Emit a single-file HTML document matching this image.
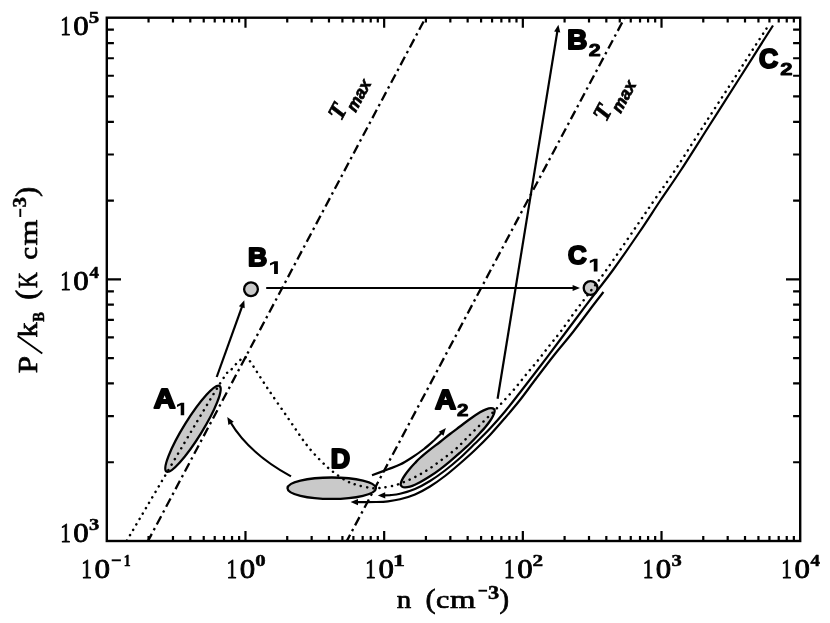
<!DOCTYPE html><html><head><meta charset="utf-8"><style>html,body{margin:0;padding:0;background:#fff}svg{display:block;will-change:transform;opacity:0.999}text{font-family:"Liberation Serif",serif;fill:#000}</style></head><body>
<svg width="830" height="623" viewBox="0 0 830 623">
<rect width="830" height="623" fill="#fff"/>
<defs><marker id="ah" viewBox="0 0 10 8" refX="9" refY="4" markerWidth="7.5" markerHeight="6" markerUnits="userSpaceOnUse" orient="auto"><path d="M0,0 L10,4 L0,8 Z" fill="#000"/></marker></defs>
<path d="M148.55,541.0v-4.9M148.55,17.7v4.9M172.97,541.0v-4.9M172.97,17.7v4.9M190.29,541.0v-4.9M190.29,17.7v4.9M203.73,541.0v-4.9M203.73,17.7v4.9M214.71,541.0v-4.9M214.71,17.7v4.9M224.00,541.0v-4.9M224.00,17.7v4.9M232.04,541.0v-4.9M232.04,17.7v4.9M239.13,541.0v-4.9M239.13,17.7v4.9M245.48,541.0v-10.0M245.48,17.7v10.0M287.23,541.0v-4.9M287.23,17.7v4.9M311.65,541.0v-4.9M311.65,17.7v4.9M328.97,541.0v-4.9M328.97,17.7v4.9M342.41,541.0v-4.9M342.41,17.7v4.9M353.39,541.0v-4.9M353.39,17.7v4.9M362.68,541.0v-4.9M362.68,17.7v4.9M370.72,541.0v-4.9M370.72,17.7v4.9M377.81,541.0v-4.9M377.81,17.7v4.9M384.16,541.0v-10.0M384.16,17.7v10.0M425.91,541.0v-4.9M425.91,17.7v4.9M450.33,541.0v-4.9M450.33,17.7v4.9M467.65,541.0v-4.9M467.65,17.7v4.9M481.09,541.0v-4.9M481.09,17.7v4.9M492.07,541.0v-4.9M492.07,17.7v4.9M501.36,541.0v-4.9M501.36,17.7v4.9M509.40,541.0v-4.9M509.40,17.7v4.9M516.49,541.0v-4.9M516.49,17.7v4.9M522.84,541.0v-10.0M522.84,17.7v10.0M564.59,541.0v-4.9M564.59,17.7v4.9M589.01,541.0v-4.9M589.01,17.7v4.9M606.33,541.0v-4.9M606.33,17.7v4.9M619.77,541.0v-4.9M619.77,17.7v4.9M630.75,541.0v-4.9M630.75,17.7v4.9M640.04,541.0v-4.9M640.04,17.7v4.9M648.08,541.0v-4.9M648.08,17.7v4.9M655.17,541.0v-4.9M655.17,17.7v4.9M661.52,541.0v-10.0M661.52,17.7v10.0M703.27,541.0v-4.9M703.27,17.7v4.9M727.69,541.0v-4.9M727.69,17.7v4.9M745.01,541.0v-4.9M745.01,17.7v4.9M758.45,541.0v-4.9M758.45,17.7v4.9M769.43,541.0v-4.9M769.43,17.7v4.9M778.72,541.0v-4.9M778.72,17.7v4.9M786.76,541.0v-4.9M786.76,17.7v4.9M793.85,541.0v-4.9M793.85,17.7v4.9M106.8,462.24h7.1M800.2,462.24h-7.1M106.8,416.16h7.1M800.2,416.16h-7.1M106.8,383.47h7.1M800.2,383.47h-7.1M106.8,358.11h7.1M800.2,358.11h-7.1M106.8,337.40h7.1M800.2,337.40h-7.1M106.8,319.88h7.1M800.2,319.88h-7.1M106.8,304.71h7.1M800.2,304.71h-7.1M106.8,291.32h7.1M800.2,291.32h-7.1M106.8,279.35h14.2M800.2,279.35h-14.2M106.8,200.59h7.1M800.2,200.59h-7.1M106.8,154.51h7.1M800.2,154.51h-7.1M106.8,121.82h7.1M800.2,121.82h-7.1M106.8,96.46h7.1M800.2,96.46h-7.1M106.8,75.75h7.1M800.2,75.75h-7.1M106.8,58.23h7.1M800.2,58.23h-7.1M106.8,43.06h7.1M800.2,43.06h-7.1M106.8,29.67h7.1M800.2,29.67h-7.1" stroke="#000" stroke-width="2.2" fill="none"/>
<rect x="106.8" y="17.7" width="693.40" height="523.30" fill="none" stroke="#000" stroke-width="2.4"/>
<path d="M425.3,18.3 L148.2,540.6" stroke="#000" stroke-width="2.3" fill="none" stroke-dasharray="9.4 4.1 2.4 4.1" stroke-dashoffset="-3.6"/>
<path d="M624.4,18.3 L347,540.6" stroke="#000" stroke-width="2.3" fill="none" stroke-dasharray="9.4 4.1 2.4 4.1" stroke-dashoffset="-4.8"/>
<ellipse cx="193" cy="428.8" rx="50.4" ry="9.2" transform="rotate(-58.2 193 428.8)" fill="#c9c9c9" stroke="#000" stroke-width="2.3"/>
<path d="M400.50,484.50 C400.75,483.75 401.25,481.58 402.00,480.00 C402.75,478.42 403.67,476.92 405.00,475.00 C406.33,473.08 408.33,470.50 410.00,468.50 C411.67,466.50 413.33,464.75 415.00,463.00 C416.67,461.25 417.50,460.22 420.00,458.00 C422.50,455.78 426.67,452.37 430.00,449.70 C433.33,447.03 436.67,444.62 440.00,442.00 C443.33,439.38 446.67,436.58 450.00,434.00 C453.33,431.42 456.67,429.00 460.00,426.50 C463.33,424.00 466.67,421.37 470.00,419.00 C473.33,416.63 477.33,413.92 480.00,412.30 C482.67,410.68 484.17,409.98 486.00,409.30 C487.83,408.62 489.62,408.20 491.00,408.20 C492.38,408.20 493.70,408.75 494.30,409.30 C494.90,409.85 494.82,410.38 494.60,411.50 C494.38,412.62 493.77,414.42 493.00,416.00 C492.23,417.58 491.33,419.08 490.00,421.00 C488.67,422.92 486.67,425.50 485.00,427.50 C483.33,429.50 482.50,430.33 480.00,433.00 C477.50,435.67 473.33,440.22 470.00,443.50 C466.67,446.78 463.33,449.73 460.00,452.70 C456.67,455.67 453.33,458.53 450.00,461.30 C446.67,464.07 443.33,466.80 440.00,469.30 C436.67,471.80 433.33,474.13 430.00,476.30 C426.67,478.47 422.50,480.88 420.00,482.30 C417.50,483.72 416.67,484.08 415.00,484.80 C413.33,485.52 411.67,486.18 410.00,486.60 C408.33,487.02 406.33,487.30 405.00,487.30 C403.67,487.30 402.75,487.07 402.00,486.60 C401.25,486.13 400.75,484.85 400.50,484.50 Z" fill="#c9c9c9" stroke="#000" stroke-width="2.3" stroke-linejoin="round"/>
<ellipse cx="331.7" cy="488.2" rx="44.2" ry="10.7" fill="#c9c9c9" stroke="#000" stroke-width="2.3"/>
<circle cx="251" cy="289.3" r="6.9" fill="#c9c9c9" stroke="#000" stroke-width="2.3"/>
<circle cx="590.6" cy="288" r="6.9" fill="#c9c9c9" stroke="#000" stroke-width="2.3"/>
<path d="M126.80,540.60 C141.67,515.50 198.50,418.60 216.00,390.00 C233.50,361.40 227.63,374.12 231.80,369.00 C235.97,363.88 238.63,361.27 241.00,359.30 C243.37,357.33 244.42,356.75 246.00,357.20 C247.58,357.65 246.83,356.70 250.50,362.00 C254.17,367.30 261.75,379.67 268.00,389.00 C274.25,398.33 281.67,408.83 288.00,418.00 C294.33,427.17 300.67,437.00 306.00,444.00 C311.33,451.00 315.67,455.50 320.00,460.00 C324.33,464.50 327.57,467.50 332.00,471.00 C336.43,474.50 342.27,478.63 346.60,481.00 C350.93,483.37 353.98,484.03 358.00,485.20 C362.02,486.37 367.62,487.48 370.70,488.00 C373.78,488.52 374.48,488.37 376.50,488.30 C378.52,488.23 379.75,488.08 382.80,487.60 C385.85,487.12 390.85,486.50 394.80,485.40 C398.75,484.30 402.63,482.65 406.50,481.00 C410.37,479.35 414.33,477.45 418.00,475.50 C421.67,473.55 425.08,471.52 428.50,469.30 C431.92,467.08 435.17,464.62 438.50,462.20 C441.83,459.78 445.25,457.33 448.50,454.80 C451.75,452.27 455.00,449.75 458.00,447.00 C461.00,444.25 463.58,441.22 466.50,438.30 C469.42,435.38 472.50,432.47 475.50,429.50 C478.50,426.53 481.58,423.38 484.50,420.50 C487.42,417.62 490.08,415.15 493.00,412.20 C495.92,409.25 498.50,406.58 502.00,402.80 C505.50,399.02 510.00,394.18 514.00,389.50 C518.00,384.82 522.00,379.57 526.00,374.70 C530.00,369.83 534.08,365.17 538.00,360.30 C541.92,355.43 545.67,350.37 549.50,345.50 C553.33,340.63 556.67,336.85 561.00,331.10 C565.33,325.35 570.58,317.65 575.50,311.00 C580.42,304.35 585.53,297.78 590.50,291.20 C595.47,284.62 598.13,281.62 605.30,271.50 C612.47,261.38 625.30,242.45 633.50,230.50 C641.70,218.55 647.50,209.97 654.50,199.80 C661.50,189.63 666.92,182.47 675.50,169.50 C684.08,156.53 695.88,137.67 706.00,122.00 C716.12,106.33 728.40,87.58 736.20,75.50 C744.00,63.42 747.75,57.33 752.80,49.50 C757.85,41.67 764.22,32.00 766.50,28.50" stroke="#000" stroke-width="2.5" fill="none" stroke-dasharray="0.1 6.2" stroke-linecap="round"/>
<path d="M773.00,25.50 C767.33,34.42 749.50,62.50 739.00,79.00 C728.50,95.50 719.67,109.33 710.00,124.50 C700.33,139.67 689.33,157.25 681.00,170.00 C672.67,182.75 666.92,190.67 660.00,201.00 C653.08,211.33 647.33,220.50 639.50,232.00 C631.67,243.50 620.42,259.75 613.00,270.00 C605.58,280.25 601.33,285.17 595.00,293.50 C588.67,301.83 580.83,312.25 575.00,320.00 C569.17,327.75 565.83,332.25 560.00,340.00 C554.17,347.75 546.67,357.75 540.00,366.50 C533.33,375.25 525.83,385.00 520.00,392.50 C514.17,400.00 510.00,405.50 505.00,411.50 C500.00,417.50 495.00,423.17 490.00,428.50 C485.00,433.83 480.00,438.58 475.00,443.50 C470.00,448.42 465.00,453.50 460.00,458.00 C455.00,462.50 450.00,466.67 445.00,470.50 C440.00,474.33 435.00,477.92 430.00,481.00 C425.00,484.08 420.00,486.87 415.00,489.00 C410.00,491.13 404.17,492.77 400.00,493.80 C395.83,494.83 391.67,494.97 390.00,495.20 L 383.70,495.31" stroke="#000" stroke-width="2.2" fill="none"/>
<path d="M377.80,495.41 L385.15,492.18 L385.25,498.38 Z" fill="#000"/>
<path d="M603.50,292.00 C601.75,294.25 598.08,298.83 593.00,305.50 C587.92,312.17 579.33,323.92 573.00,332.00 C566.67,340.08 561.33,346.00 555.00,354.00 C548.67,362.00 540.83,372.33 535.00,380.00 C529.17,387.67 525.00,393.67 520.00,400.00 C515.00,406.33 510.00,412.17 505.00,418.00 C500.00,423.83 495.00,429.67 490.00,435.00 C485.00,440.33 480.00,445.25 475.00,450.00 C470.00,454.75 465.00,459.17 460.00,463.50 C455.00,467.83 450.00,472.17 445.00,476.00 C440.00,479.83 435.00,483.42 430.00,486.50 C425.00,489.58 420.00,492.37 415.00,494.50 C410.00,496.63 404.50,498.17 400.00,499.30 C395.50,500.43 392.00,500.85 388.00,501.30 C384.00,501.75 380.00,501.87 376.00,502.00 C372.00,502.13 366.00,502.08 364.00,502.10 L 356.50,502.04" stroke="#000" stroke-width="2.2" fill="none"/>
<path d="M350.60,502.00 L358.02,498.95 L357.98,505.15 Z" fill="#000"/>
<path d="M216.7,377 L 242.30,305.89" stroke="#000" stroke-width="2.2" fill="none"/>
<path d="M244.30,300.34 L244.71,308.35 L238.88,306.25 Z" fill="#000"/>
<path d="M266.2,288 L 574.10,288.00" stroke="#000" stroke-width="2.2" fill="none"/>
<path d="M580.00,288.00 L572.60,291.10 L572.60,284.90 Z" fill="#000"/>
<path d="M497.6,398.8 L 557.45,30.63" stroke="#000" stroke-width="2.2" fill="none"/>
<path d="M558.40,24.81 L560.27,32.61 L554.15,31.61 Z" fill="#000"/>
<path d="M291,476.4 Q249,453.5 230.31,422.06" stroke="#000" stroke-width="2.2" fill="none"/>
<path d="M227.29,416.98 L233.74,421.76 L228.41,424.93 Z" fill="#000"/>
<path d="M372.00,475.20 C374.67,474.22 383.33,471.07 388.00,469.30 C392.67,467.53 396.00,466.57 400.00,464.60 C404.00,462.63 408.00,460.10 412.00,457.50 C416.00,454.90 420.33,451.83 424.00,449.00 C427.67,446.17 432.33,441.92 434.00,440.50 L 442.05,432.52" stroke="#000" stroke-width="2.2" fill="none"/>
<path d="M445.89,428.04 L443.43,435.68 L438.72,431.65 Z" fill="#000"/>
<text transform="translate(248.07 266.45) scale(1.004 1)" font-size="26.45" style="font-family:'Liberation Sans';font-weight:bold;font-style:normal" stroke="#000" stroke-width="2.1" stroke-linejoin="round" >B</text>
<path d="M274.08,273.90 L274.08,263.76 L270.00,265.59 L270.00,263.27 L274.42,261.20 L277.90,261.20 L277.90,273.90 Z" fill="#000"/>
<text transform="translate(153.80 407.95) scale(1.126 1)" font-size="26.74" style="font-family:'Liberation Sans';font-weight:bold;font-style:normal" stroke="#000" stroke-width="2.1" stroke-linejoin="round" >A</text>
<path d="M180.72,415.20 L180.72,405.30 L177.00,407.09 L177.00,404.82 L181.02,402.80 L184.20,402.80 L184.20,415.20 Z" fill="#000"/>
<text transform="translate(330.76 468.45) scale(1.000 1)" font-size="26.74" style="font-family:'Liberation Sans';font-weight:bold;font-style:normal" stroke="#000" stroke-width="2.1" stroke-linejoin="round" >D</text>
<text transform="translate(435.12 409.45) scale(1.092 1)" font-size="26.74" style="font-family:'Liberation Sans';font-weight:bold;font-style:normal" stroke="#000" stroke-width="2.1" stroke-linejoin="round" >A</text>
<text transform="translate(456.94 416.05) scale(1.238 1)" font-size="16.61" style="font-family:'Liberation Sans';font-weight:bold;font-style:normal" stroke="#000" stroke-width="0.9" stroke-linejoin="round" >2</text>
<text transform="translate(567.20 49.45) scale(1.036 1)" font-size="26.74" style="font-family:'Liberation Sans';font-weight:bold;font-style:normal" stroke="#000" stroke-width="2.1" stroke-linejoin="round" >B</text>
<text transform="translate(588.71 56.35) scale(1.255 1)" font-size="17.04" style="font-family:'Liberation Sans';font-weight:bold;font-style:normal" stroke="#000" stroke-width="0.9" stroke-linejoin="round" >2</text>
<text transform="translate(567.99 263.95) scale(1.008 1)" font-size="25.64" style="font-family:'Liberation Sans';font-weight:bold;font-style:normal" stroke="#000" stroke-width="2.1" stroke-linejoin="round" >C</text>
<path d="M593.77,271.50 L593.77,261.36 L589.80,263.19 L589.80,260.87 L594.10,258.80 L597.50,258.80 L597.50,271.50 Z" fill="#000"/>
<text transform="translate(758.96 68.45) scale(0.983 1)" font-size="27.07" style="font-family:'Liberation Sans';font-weight:bold;font-style:normal" stroke="#000" stroke-width="2.1" stroke-linejoin="round" >C</text>
<text transform="translate(780.19 75.05) scale(1.271 1)" font-size="17.33" style="font-family:'Liberation Sans';font-weight:bold;font-style:normal" stroke="#000" stroke-width="0.9" stroke-linejoin="round" >2</text>
<g transform="translate(341.8 120.3) rotate(-62)"><text x="-1.6" y="0" font-size="24" style="font-family:'Liberation Serif';font-style:italic;font-weight:bold" stroke="#000" stroke-width="0.7">T</text><text x="13.0" y="8.9" font-size="16.9" style="font-family:'Liberation Sans';font-style:italic;font-weight:bold" stroke="#000" stroke-width="0.7">max</text></g>
<g transform="translate(606.8 121.4) rotate(-62)"><text x="-1.6" y="0" font-size="24" style="font-family:'Liberation Serif';font-style:italic;font-weight:bold" stroke="#000" stroke-width="0.7">T</text><text x="13.0" y="8.9" font-size="16.9" style="font-family:'Liberation Sans';font-style:italic;font-weight:bold" stroke="#000" stroke-width="0.7">max</text></g>
<text transform="translate(81.30 577.70) scale(0.796 1)" font-size="27.11" style="font-family:'Liberation Serif';font-weight:normal;font-style:normal" stroke="#000" stroke-width="0.8" stroke-linejoin="round" >1</text>
<text transform="translate(94.51 577.70) scale(1.157 1)" font-size="26.92" style="font-family:'Liberation Serif';font-weight:normal;font-style:normal" stroke="#000" stroke-width="0.8" stroke-linejoin="round" >0</text>
<path d="M111.7,560.3h9.2" stroke="#000" stroke-width="1.9"/>
<text transform="translate(123.84 565.70) scale(0.806 1)" font-size="17.19" style="font-family:'Liberation Serif';font-weight:bold;font-style:normal" stroke="#000" stroke-width="0.5" stroke-linejoin="round" >1</text>
<text transform="translate(226.61 577.70) scale(0.786 1)" font-size="27.11" style="font-family:'Liberation Serif';font-weight:normal;font-style:normal" stroke="#000" stroke-width="0.8" stroke-linejoin="round" >1</text>
<text transform="translate(239.80 577.70) scale(1.148 1)" font-size="26.92" style="font-family:'Liberation Serif';font-weight:normal;font-style:normal" stroke="#000" stroke-width="0.8" stroke-linejoin="round" >0</text>
<text transform="translate(255.34 565.70) scale(1.217 1)" font-size="17.07" style="font-family:'Liberation Serif';font-weight:bold;font-style:normal" stroke="#000" stroke-width="0.5" stroke-linejoin="round" >0</text>
<text transform="translate(365.29 577.70) scale(0.786 1)" font-size="27.11" style="font-family:'Liberation Serif';font-weight:normal;font-style:normal" stroke="#000" stroke-width="0.8" stroke-linejoin="round" >1</text>
<text transform="translate(378.48 577.70) scale(1.148 1)" font-size="26.92" style="font-family:'Liberation Serif';font-weight:normal;font-style:normal" stroke="#000" stroke-width="0.8" stroke-linejoin="round" >0</text>
<text transform="translate(392.90 565.70) scale(1.390 1)" font-size="17.19" style="font-family:'Liberation Serif';font-weight:bold;font-style:normal" stroke="#000" stroke-width="0.5" stroke-linejoin="round" >1</text>
<text transform="translate(503.97 577.70) scale(0.786 1)" font-size="27.11" style="font-family:'Liberation Serif';font-weight:normal;font-style:normal" stroke="#000" stroke-width="0.8" stroke-linejoin="round" >1</text>
<text transform="translate(517.16 577.70) scale(1.148 1)" font-size="26.92" style="font-family:'Liberation Serif';font-weight:normal;font-style:normal" stroke="#000" stroke-width="0.8" stroke-linejoin="round" >0</text>
<text transform="translate(532.60 565.70) scale(1.237 1)" font-size="17.14" style="font-family:'Liberation Serif';font-weight:bold;font-style:normal" stroke="#000" stroke-width="0.5" stroke-linejoin="round" >2</text>
<text transform="translate(642.65 577.70) scale(0.786 1)" font-size="27.11" style="font-family:'Liberation Serif';font-weight:normal;font-style:normal" stroke="#000" stroke-width="0.8" stroke-linejoin="round" >1</text>
<text transform="translate(655.84 577.70) scale(1.148 1)" font-size="26.92" style="font-family:'Liberation Serif';font-weight:normal;font-style:normal" stroke="#000" stroke-width="0.8" stroke-linejoin="round" >0</text>
<text transform="translate(671.40 565.70) scale(1.199 1)" font-size="17.14" style="font-family:'Liberation Serif';font-weight:bold;font-style:normal" stroke="#000" stroke-width="0.5" stroke-linejoin="round" >3</text>
<text transform="translate(781.33 577.70) scale(0.786 1)" font-size="27.11" style="font-family:'Liberation Serif';font-weight:normal;font-style:normal" stroke="#000" stroke-width="0.8" stroke-linejoin="round" >1</text>
<text transform="translate(794.52 577.70) scale(1.148 1)" font-size="26.92" style="font-family:'Liberation Serif';font-weight:normal;font-style:normal" stroke="#000" stroke-width="0.8" stroke-linejoin="round" >0</text>
<text transform="translate(810.59 565.70) scale(1.091 1)" font-size="17.24" style="font-family:'Liberation Serif';font-weight:bold;font-style:normal" stroke="#000" stroke-width="0.5" stroke-linejoin="round" >4</text>
<text transform="translate(60.13 35.20) scale(0.786 1)" font-size="27.11" style="font-family:'Liberation Serif';font-weight:normal;font-style:normal" stroke="#000" stroke-width="0.8" stroke-linejoin="round" >1</text>
<text transform="translate(73.32 35.20) scale(1.148 1)" font-size="26.92" style="font-family:'Liberation Serif';font-weight:normal;font-style:normal" stroke="#000" stroke-width="0.8" stroke-linejoin="round" >0</text>
<text transform="translate(88.82 23.20) scale(1.199 1)" font-size="17.33" style="font-family:'Liberation Serif';font-weight:bold;font-style:normal" stroke="#000" stroke-width="0.5" stroke-linejoin="round" >5</text>
<text transform="translate(60.13 289.80) scale(0.786 1)" font-size="27.11" style="font-family:'Liberation Serif';font-weight:normal;font-style:normal" stroke="#000" stroke-width="0.8" stroke-linejoin="round" >1</text>
<text transform="translate(73.32 289.80) scale(1.148 1)" font-size="26.92" style="font-family:'Liberation Serif';font-weight:normal;font-style:normal" stroke="#000" stroke-width="0.8" stroke-linejoin="round" >0</text>
<text transform="translate(89.39 277.80) scale(1.091 1)" font-size="17.24" style="font-family:'Liberation Serif';font-weight:bold;font-style:normal" stroke="#000" stroke-width="0.5" stroke-linejoin="round" >4</text>
<text transform="translate(60.13 542.30) scale(0.786 1)" font-size="27.11" style="font-family:'Liberation Serif';font-weight:normal;font-style:normal" stroke="#000" stroke-width="0.8" stroke-linejoin="round" >1</text>
<text transform="translate(73.32 542.30) scale(1.148 1)" font-size="26.92" style="font-family:'Liberation Serif';font-weight:normal;font-style:normal" stroke="#000" stroke-width="0.8" stroke-linejoin="round" >0</text>
<text transform="translate(88.88 530.30) scale(1.199 1)" font-size="17.14" style="font-family:'Liberation Serif';font-weight:bold;font-style:normal" stroke="#000" stroke-width="0.5" stroke-linejoin="round" >3</text>
<text transform="translate(396.68 607.60) scale(1.116 1)" font-size="26.00" style="font-family:'Liberation Serif';font-weight:normal;font-style:normal" stroke="#000" stroke-width="0.7" stroke-linejoin="round" >n</text>
<text transform="translate(425.47 607.51) scale(1.097 1)" font-size="27.68" style="font-family:'Liberation Serif'" stroke="#000" stroke-width="0.7">(</text>
<text transform="translate(435.90 607.60) scale(1.159 1)" font-size="26.00" style="font-family:'Liberation Serif';font-weight:normal;font-style:normal" stroke="#000" stroke-width="0.7" stroke-linejoin="round" >c</text>
<text transform="translate(449.96 607.60) scale(1.266 1)" font-size="26.00" style="font-family:'Liberation Serif';font-weight:normal;font-style:normal" stroke="#000" stroke-width="0.7" stroke-linejoin="round" >m</text>
<path d="M478.5,590.7h8.6" stroke="#000" stroke-width="1.9"/>
<text transform="translate(488.11 598.50) scale(1.137 1)" font-size="19.71" style="font-family:'Liberation Serif';font-weight:bold;font-style:normal" stroke="#000" stroke-width="0.5" stroke-linejoin="round" >3</text>
<text transform="translate(499.47 607.51) scale(1.041 1)" font-size="27.68" style="font-family:'Liberation Serif'" stroke="#000" stroke-width="0.7">)</text>
<g transform="translate(37.3 372.7) rotate(-90)">
<text transform="translate(-0.55 0.00) scale(1.125 1)" font-size="27.72" style="font-family:'Liberation Serif';font-weight:normal;font-style:normal" stroke="#000" stroke-width="0.7" stroke-linejoin="round" >P</text>
<path d="M19.3,5 L36.7,-19.6" stroke="#000" stroke-width="1.8"/>
<text transform="translate(35.28 0.00) scale(1.092 1)" font-size="27.60" style="font-family:'Liberation Serif';font-weight:normal;font-style:normal" stroke="#000" stroke-width="0.7" stroke-linejoin="round" >k</text>
<text transform="translate(51.01 6.50) scale(0.843 1)" font-size="17.33" style="font-family:'Liberation Serif';font-weight:bold;font-style:normal" stroke="#000" stroke-width="0.5" stroke-linejoin="round" >B</text>
<text transform="translate(72.98 -0.99) scale(1.014 1)" font-size="29.56" style="font-family:'Liberation Serif'" stroke="#000" stroke-width="0.7">(</text>
<text transform="translate(84.72 0.00) scale(0.787 1)" font-size="27.72" style="font-family:'Liberation Serif';font-weight:normal;font-style:normal" stroke="#000" stroke-width="0.7" stroke-linejoin="round" >K</text>
<text transform="translate(113.04 0.00) scale(1.118 1)" font-size="26.00" style="font-family:'Liberation Serif';font-weight:normal;font-style:normal" stroke="#000" stroke-width="0.7" stroke-linejoin="round" >c</text>
<text transform="translate(127.15 0.00) scale(1.277 1)" font-size="26.00" style="font-family:'Liberation Serif';font-weight:normal;font-style:normal" stroke="#000" stroke-width="0.7" stroke-linejoin="round" >m</text>
<path d="M155.7,-17h8.2" stroke="#000" stroke-width="1.9"/>
<text transform="translate(165.27 -11.80) scale(1.152 1)" font-size="18.05" style="font-family:'Liberation Serif';font-weight:bold;font-style:normal" stroke="#000" stroke-width="0.5" stroke-linejoin="round" >3</text>
<text transform="translate(176.05 -0.99) scale(1.001 1)" font-size="29.56" style="font-family:'Liberation Serif'" stroke="#000" stroke-width="0.7">)</text>
</g>
</svg></body></html>
